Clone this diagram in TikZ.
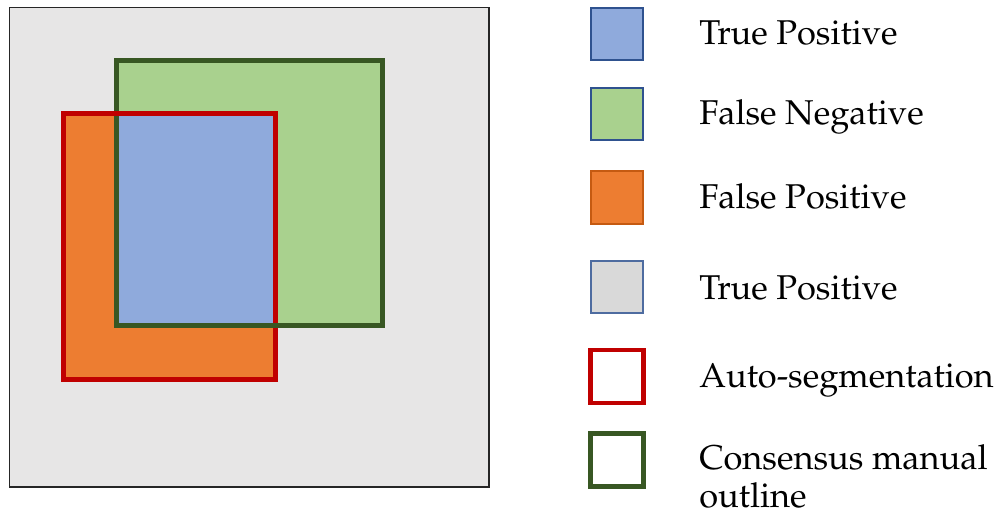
\documentclass[tikz,border=0pt]{standalone}
\usepackage[T1]{fontenc}
\usepackage{mathpazo}
\usepackage{tikz}
\usetikzlibrary{positioning}

\definecolor{bgGray}{HTML}{E7E6E6}
\definecolor{tpBlue}{HTML}{8FAADC}
\definecolor{fnGreen}{HTML}{A9D18E}
\definecolor{fpOrange}{HTML}{ED7D31}
\definecolor{tnGray}{HTML}{D9D9D9}
\definecolor{autoRed}{HTML}{C00000}
\definecolor{manGreen}{HTML}{385723}
\definecolor{edgeBlue}{HTML}{2F528F}
\definecolor{edgeOrange}{HTML}{C55A11}

\begin{document}
\begin{tikzpicture}[
      x=0.75pt, y=-0.75pt,
      outline/.style={line width=3.75pt},
      swatch/.style={line width=1.5pt,minimum size=39.5pt,inner sep=0pt},
      ringbox/.style={line width=3.4pt,fill=white,minimum size=39.5pt,inner sep=0pt},
      label/.style={anchor=base west,inner sep=0pt,font=\fontsize{25.8}{30}\selectfont}
    ]
    \useasboundingbox (0,0) rectangle (998,513);
    % Image frame and background.
    \draw[fill=bgGray,line width=1.1pt,draw=black!85] (9.5,7.5) rectangle (489,487);
    % Corners of the two outlines.
    \coordinate (man-nw) at (116.7,60.3);
    \coordinate (man-se) at (382.7,325.7);
    \coordinate (auto-nw) at (63,113.7);
    \coordinate (auto-se) at (275.7,379.3);
    % Fill the regions.
    \fill[fpOrange] (auto-nw) rectangle (auto-se);
    \fill[fnGreen] (man-nw) rectangle (man-se);
    \fill[tpBlue] (man-nw |- auto-nw) rectangle (auto-se |- man-se);
    % Draw the outlines, the manual one woven over the auto one at the bottom.
    \draw[outline,manGreen] (man-nw) rectangle (man-se);
    \draw[outline,autoRed] (auto-nw) rectangle (auto-se);
    \draw[outline,manGreen] ([xshift=-10]auto-se |- man-se) -- ([xshift=10]auto-se |- man-se);

    % Legend.
    \node[swatch,draw=edgeBlue,fill=tpBlue] (tp) at (617,34) {};
    \node[swatch,draw=edgeBlue,fill=fnGreen] (fn) at (617,114) {};
    \node[swatch,draw=edgeOrange,fill=fpOrange] (fp) at (617,197.5) {};
    \node[swatch,draw=edgeBlue!85,fill=tnGray] (tn) at (617,287) {};
    \node[ringbox,draw=autoRed] (auto) at (617,376.5) {};
    \node[ringbox,draw=manGreen] (man) at (617,460) {};

    \node[label] (tp-text) at (699,44.3) {True Positive};
    \node[label] (fn-text) at (699,125) {False Negative};
    \node[label] (fp-text) at (699,208.3) {False Positive};
    \node[label] (tn-text) at (699,299.3) {True Positive};
    \node[label] (auto-text) at (699,387.3) {Auto-segmentation};
    \node[label] (man-text) at (699,469) {Consensus manual};
    \node[label] (man-text2) at (699,507.5) {outline};
\end{tikzpicture}
\end{document}
